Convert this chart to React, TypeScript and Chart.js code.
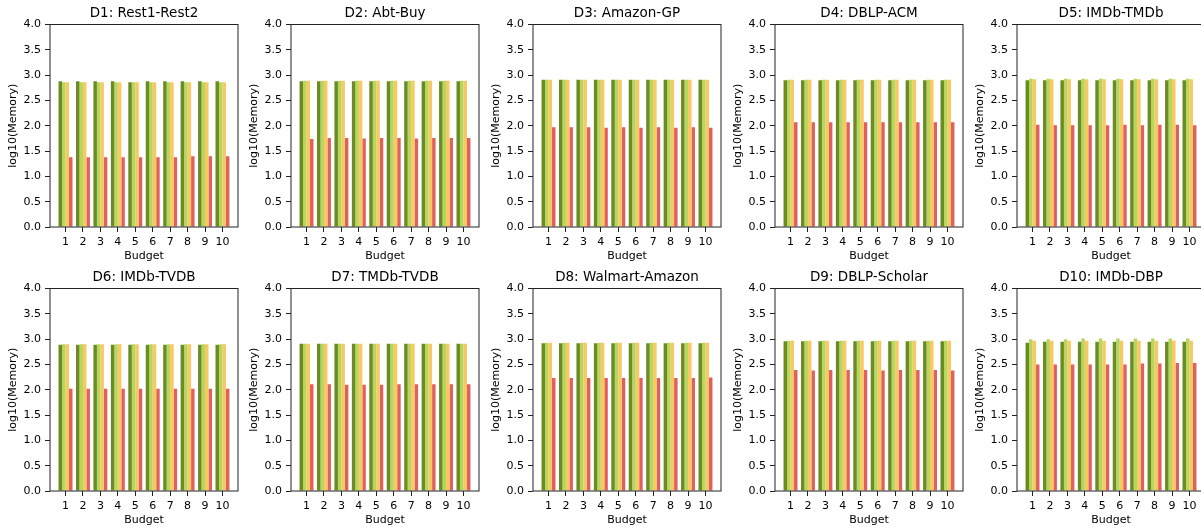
import React, { useEffect, useRef } from "react";
import { Chart, registerables } from "chart.js";

Chart.register(...registerables);

// ---------- data ----------
const budgets = [1, 2, 3, 4, 5, 6, 7, 8, 9, 10];
const yTicks = [0, 0.5, 1, 1.5, 2, 2.5, 3, 3.5, 4];
const titles = [
  "D1: Rest1-Rest2",
  "D2: Abt-Buy",
  "D3: Amazon-GP",
  "D4: DBLP-ACM",
  "D5: IMDb-TMDb",
  "D6: IMDb-TVDB",
  "D7: TMDb-TVDB",
  "D8: Walmart-Amazon",
  "D9: DBLP-Scholar",
  "D10: IMDb-DBP",
];
const seriesNames = ["Series 1", "Series 2", "Series 3", "Series 4"];
const seriesColors = ["#6b8b23", "#b8d65c", "#f9c860", "#df615e"];

// each: [dark green, light green, yellow, red]
const d1 = [
  [2.88, 2.88, 2.88, 2.88, 2.86, 2.88, 2.88, 2.88, 2.88, 2.88],
  [2.86, 2.86, 2.86, 2.86, 2.86, 2.86, 2.86, 2.86, 2.86, 2.86],
  [2.86, 2.86, 2.86, 2.86, 2.86, 2.86, 2.86, 2.86, 2.86, 2.86],
  [1.38, 1.38, 1.38, 1.38, 1.38, 1.38, 1.38, 1.40, 1.40, 1.40],
];
const d2 = [
  [2.88, 2.88, 2.88, 2.88, 2.88, 2.88, 2.88, 2.88, 2.88, 2.88],
  [2.89, 2.89, 2.89, 2.89, 2.89, 2.89, 2.89, 2.89, 2.89, 2.89],
  [2.89, 2.89, 2.89, 2.89, 2.89, 2.89, 2.89, 2.89, 2.89, 2.89],
  [1.74, 1.76, 1.76, 1.75, 1.76, 1.76, 1.75, 1.76, 1.76, 1.76],
];
const d3 = [
  [2.91, 2.91, 2.91, 2.91, 2.91, 2.91, 2.91, 2.91, 2.91, 2.91],
  [2.91, 2.91, 2.91, 2.91, 2.91, 2.91, 2.91, 2.91, 2.91, 2.91],
  [2.91, 2.91, 2.91, 2.91, 2.91, 2.91, 2.91, 2.91, 2.91, 2.91],
  [1.97, 1.97, 1.97, 1.96, 1.97, 1.96, 1.97, 1.96, 1.97, 1.96],
];
const d4 = [
  [2.90, 2.90, 2.90, 2.90, 2.90, 2.90, 2.90, 2.90, 2.90, 2.90],
  [2.91, 2.91, 2.91, 2.91, 2.91, 2.91, 2.91, 2.91, 2.91, 2.91],
  [2.91, 2.91, 2.91, 2.91, 2.91, 2.91, 2.91, 2.91, 2.91, 2.91],
  [2.07, 2.07, 2.07, 2.07, 2.07, 2.07, 2.07, 2.07, 2.07, 2.07],
];
const d5 = [
  [2.90, 2.90, 2.90, 2.90, 2.90, 2.90, 2.90, 2.90, 2.90, 2.90],
  [2.93, 2.93, 2.93, 2.93, 2.93, 2.93, 2.93, 2.93, 2.93, 2.93],
  [2.92, 2.92, 2.92, 2.92, 2.92, 2.92, 2.92, 2.92, 2.92, 2.92],
  [2.02, 2.01, 2.01, 2.01, 2.01, 2.02, 2.01, 2.02, 2.02, 2.01],
];
const d6 = [
  [2.89, 2.89, 2.89, 2.89, 2.89, 2.89, 2.89, 2.89, 2.89, 2.89],
  [2.90, 2.90, 2.90, 2.90, 2.90, 2.90, 2.90, 2.90, 2.90, 2.90],
  [2.90, 2.90, 2.90, 2.90, 2.90, 2.90, 2.90, 2.90, 2.90, 2.90],
  [2.02, 2.02, 2.02, 2.02, 2.02, 2.02, 2.02, 2.02, 2.02, 2.02],
];
const d7 = [
  [2.91, 2.91, 2.91, 2.91, 2.91, 2.91, 2.91, 2.91, 2.91, 2.91],
  [2.91, 2.91, 2.91, 2.91, 2.91, 2.91, 2.91, 2.91, 2.91, 2.91],
  [2.91, 2.91, 2.91, 2.91, 2.91, 2.91, 2.91, 2.91, 2.91, 2.91],
  [2.11, 2.11, 2.10, 2.10, 2.10, 2.11, 2.11, 2.11, 2.11, 2.11],
];
const d8 = [
  [2.92, 2.92, 2.92, 2.92, 2.92, 2.92, 2.92, 2.92, 2.92, 2.92],
  [2.93, 2.93, 2.93, 2.93, 2.93, 2.93, 2.93, 2.93, 2.93, 2.93],
  [2.93, 2.93, 2.93, 2.93, 2.93, 2.93, 2.93, 2.93, 2.93, 2.93],
  [2.23, 2.23, 2.23, 2.23, 2.23, 2.23, 2.23, 2.23, 2.23, 2.24],
];
const d9 = [
  [2.96, 2.96, 2.96, 2.96, 2.96, 2.96, 2.96, 2.96, 2.96, 2.96],
  [2.97, 2.97, 2.97, 2.97, 2.97, 2.97, 2.97, 2.97, 2.97, 2.97],
  [2.97, 2.97, 2.97, 2.97, 2.97, 2.97, 2.97, 2.97, 2.97, 2.97],
  [2.39, 2.38, 2.39, 2.39, 2.39, 2.38, 2.39, 2.39, 2.39, 2.38],
];
const d10 = [
  [2.93, 2.95, 2.95, 2.95, 2.95, 2.95, 2.95, 2.95, 2.95, 2.95],
  [3.00, 3.00, 3.00, 3.01, 3.01, 3.01, 3.01, 3.01, 3.01, 3.01],
  [2.97, 2.97, 2.97, 2.97, 2.97, 2.97, 2.97, 2.97, 2.97, 2.97],
  [2.50, 2.50, 2.50, 2.50, 2.50, 2.50, 2.52, 2.52, 2.53, 2.53],
];
const panels = [d1, d2, d3, d4, d5, d6, d7, d8, d9, d10];

// ---------- layout ----------
const FONT = "'DejaVu Sans', sans-serif";
const Y_AXIS_W = 50;
const X_AXIS_H = 36;
const PLOT_W = 188;
const PLOT_H = 202.5;
const TITLE_H = 24.5;
const RIGHT_PAD = 3;
const CANVAS_W = Y_AXIS_W + PLOT_W + RIGHT_PAD;
const CANVAS_H = TITLE_H + PLOT_H + X_AXIS_H;
const colLefts = [0, 241, 483, 725, 967];
const rowTops = [0, 264];

const framePlugin = {
  id: "frame",
  afterDraw(chart: any) {
    const { ctx, chartArea: a } = chart;
    ctx.save();
    ctx.strokeStyle = "#222";
    ctx.lineWidth = 1;
    ctx.strokeRect(a.left, a.top, a.right - a.left, a.bottom - a.top);
    ctx.restore();
  },
};

function Panel({ idx }: { idx: number }) {
  const ref = useRef<HTMLCanvasElement>(null);
  useEffect(() => {
    if (!ref.current) return;
    const values = panels[idx];
    const chart = new Chart(ref.current, {
      type: "bar",
      data: {
        datasets: values.map((arr, s) => ({
          label: seriesNames[s],
          data: budgets.map((b, i) => ({ x: b, y: arr[i] })),
          backgroundColor: seriesColors[s],
          borderWidth: 0,
          categoryPercentage: 0.8,
          barPercentage: 1.0,
        })),
      },
      options: {
        animation: false,
        responsive: false,
        devicePixelRatio: 1,
        events: [],
        layout: { padding: { left: 0, right: RIGHT_PAD, top: 0, bottom: 0 } },
        plugins: {
          legend: { display: false },
          tooltip: { enabled: false },
          title: {
            display: true,
            fullSize: false,
            text: titles[idx],
            color: "#000",
            font: { family: FONT, size: 13.5, weight: "normal", lineHeight: 1.2 },
            padding: { top: 5, bottom: 3.3 },
          },
        },
        scales: {
          x: {
            type: "linear",
            min: 0.11,
            max: 10.89,
            offset: false,
            afterFit: (s: any) => {
              s.height = X_AXIS_H;
            },
            ticks: {
              stepSize: 1,
              includeBounds: false,
              autoSkip: false,
              maxRotation: 0,
              color: "#000",
              padding: 3.5,
              font: { family: FONT, size: 11 },
              callback: (v: any) => String(v),
            },
            grid: {
              display: true,
              offset: false,
              drawOnChartArea: false,
              drawTicks: true,
              tickLength: 5,
              color: "#222",
            },
            border: { display: false },
            title: {
              display: true,
              text: "Budget",
              color: "#000",
              font: { family: FONT, size: 11, lineHeight: 1.2 },
              padding: { top: 0, bottom: 0 },
            },
          },
          y: {
            type: "linear",
            min: 0,
            max: 4,
            afterFit: (s: any) => {
              s.width = Y_AXIS_W;
            },
            afterBuildTicks: (s: any) => {
              s.ticks = yTicks.map((v) => ({ value: v }));
            },
            ticks: {
              color: "#000",
              padding: 4,
              font: { family: FONT, size: 11 },
              callback: (v: any) => Number(v).toFixed(1),
            },
            grid: {
              display: true,
              drawOnChartArea: false,
              drawTicks: true,
              tickLength: 5,
              color: "#222",
            },
            border: { display: false },
            title: {
              display: true,
              text: "log10(Memory)",
              color: "#000",
              font: { family: FONT, size: 11, lineHeight: 1.2 },
              padding: { top: 7, bottom: 0 },
            },
          },
        },
      },
      plugins: [framePlugin],
    } as any);
    return () => chart.destroy();
  }, [idx]);

  const col = idx % 5;
  const row = Math.floor(idx / 5);
  return (
    <canvas
      ref={ref}
      width={CANVAS_W}
      height={CANVAS_H}
      style={{
        position: "absolute",
        left: colLefts[col],
        top: rowTops[row],
        width: CANVAS_W,
        height: CANVAS_H,
      }}
    />
  );
}

export default function App() {
  return (
    <div
      style={{
        position: "absolute",
        left: 0,
        top: 0,
        width: 1201,
        height: 529,
        overflow: "hidden",
        background: "#fff",
      }}
    >
      {titles.map((_, i) => (
        <Panel key={i} idx={i} />
      ))}
    </div>
  );
}
